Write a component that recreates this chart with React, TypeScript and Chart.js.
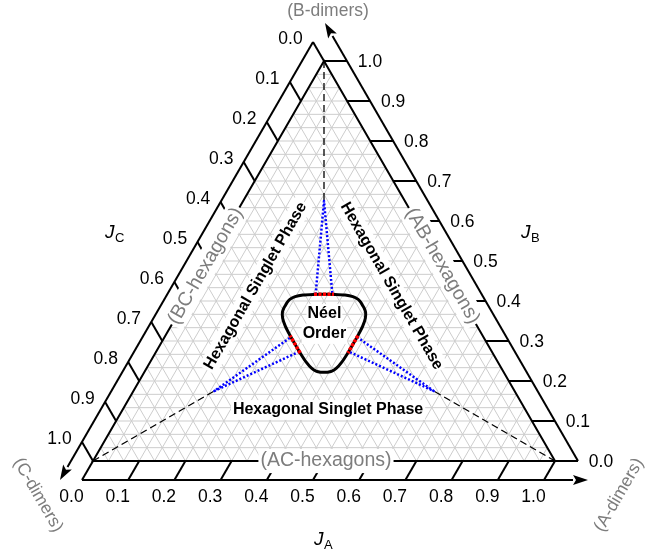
import React, { useEffect, useRef } from "react";
import { Chart, registerables } from "chart.js";

Chart.register(...registerables);

type T3 = [number, number, number]; // (J_A, J_B, J_C), sum = 1

// ---------- data ----------
const tickValues = [0, 0.1, 0.2, 0.3, 0.4, 0.5, 0.6, 0.7, 0.8, 0.9, 1.0];
const tickLabels = ["0.0", "0.1", "0.2", "0.3", "0.4", "0.5", "0.6", "0.7", "0.8", "0.9", "1.0"];
const gridDivisions = 30;

const vertexA: T3 = [1, 0, 0];
const vertexB: T3 = [0, 1, 0];
const vertexC: T3 = [0, 0, 1];

const cuspA: T3 = [0.65, 0.175, 0.175];
const cuspB: T3 = [0.175, 0.65, 0.175];
const cuspC: T3 = [0.175, 0.175, 0.65];

const neelBoundary: T3[] = [
  [0.2917, 0.4167, 0.2916], [0.3150, 0.4165, 0.2685], [0.3380, 0.4150, 0.2470], [0.3570, 0.4110, 0.2320],
  [0.3720, 0.4040, 0.2240], [0.3820, 0.3960, 0.2220], [0.3890, 0.3890, 0.2220], [0.3960, 0.3820, 0.2220],
  [0.4040, 0.3720, 0.2240], [0.4110, 0.3570, 0.2320], [0.4150, 0.3380, 0.2470], [0.4165, 0.3150, 0.2685],
  [0.4167, 0.2916, 0.2917], [0.4165, 0.2685, 0.3150], [0.4150, 0.2470, 0.3380], [0.4110, 0.2320, 0.3570],
  [0.4040, 0.2240, 0.3720], [0.3960, 0.2220, 0.3820], [0.3890, 0.2220, 0.3890], [0.3820, 0.2220, 0.3960],
  [0.3720, 0.2240, 0.4040], [0.3570, 0.2320, 0.4110], [0.3380, 0.2470, 0.4150], [0.3150, 0.2685, 0.4165],
  [0.2917, 0.2916, 0.4167], [0.2685, 0.3150, 0.4165], [0.2470, 0.3380, 0.4150], [0.2320, 0.3570, 0.4110],
  [0.2240, 0.3720, 0.4040], [0.2220, 0.3820, 0.3960], [0.2220, 0.3890, 0.3890], [0.2220, 0.3960, 0.3820],
  [0.2240, 0.4040, 0.3720], [0.2320, 0.4110, 0.3570], [0.2470, 0.4150, 0.3380], [0.2685, 0.4165, 0.3150],
  [0.2917, 0.4167, 0.2916],
];

const redTop: T3[] = [[0.2700, 0.4167, 0.3133], [0.3133, 0.4167, 0.2700]];
const redRight: T3[] = [[0.4167, 0.3133, 0.2700], [0.4167, 0.2700, 0.3133]];
const redLeft: T3[] = [[0.3133, 0.2700, 0.4167], [0.2700, 0.3133, 0.4167]];

const blueTop: T3[] = [[0.2735, 0.4167, 0.3098], cuspB, [0.3098, 0.4167, 0.2735]];
const blueRight: T3[] = [[0.4167, 0.3098, 0.2735], cuspA, [0.4167, 0.2735, 0.3098]];
const blueLeft: T3[] = [[0.3098, 0.2735, 0.4167], cuspC, [0.2735, 0.3098, 0.4167]];

const dashedB: T3[] = [vertexB, cuspB];
const dashedA: T3[] = [vertexA, cuspA];
const dashedC: T3[] = [vertexC, cuspC];

// text anchors (ternary)
const phaseBottomAt: T3 = [0.445, 0.1275, 0.4275];
const phaseLeftAt: T3 = [0.133, 0.4375, 0.4295];
const phaseRightAt: T3 = [0.4274, 0.4375, 0.1351];
const neelLine1At: T3 = [0.3172, 0.3675, 0.3153];
const neelLine2At: T3 = [0.3422, 0.3175, 0.3403];
const hexACAt: T3 = [0.5043, 0, 0.4957];
const hexBCAt: T3 = [0, 0.4875, 0.5125];
const hexABAt: T3 = [0.5125, 0.4875, 0];

// ---------- helpers ----------
const toXY = (t: T3) => ({ x: t[0] + t[1] / 2, y: t[1] });

const FONT = "'Liberation Sans', Arial, Helvetica, sans-serif";
const GRAY = "#7d7d7d";

function lineSet(pts: T3[], color: string, width: number, dash: number[], order: number, tension = 0) {
  return {
    type: "scatter" as const,
    data: pts.map(toXY),
    showLine: true,
    borderColor: color,
    backgroundColor: color,
    borderWidth: width,
    borderDash: dash,
    borderCapStyle: "butt" as const,
    borderJoinStyle: "round" as const,
    pointRadius: 0,
    pointHoverRadius: 0,
    fill: false,
    tension,
    order,
  };
}

function textBox(ctx: CanvasRenderingContext2D, text: string, x: number, y: number, angle: number, font: string, color: string, bg: boolean, pad = 2) {
  ctx.save();
  ctx.translate(x, y);
  ctx.rotate((angle * Math.PI) / 180);
  ctx.font = font;
  ctx.textAlign = "center";
  ctx.textBaseline = "middle";
  const w = ctx.measureText(text).width;
  const m = /(\d+(\.\d+)?)px/.exec(font);
  const fs = m ? parseFloat(m[1]) : 16;
  if (bg) {
    ctx.fillStyle = "#ffffff";
    ctx.fillRect(-w / 2 - pad, -fs * 0.62, w + 2 * pad, fs * 1.24);
  }
  ctx.fillStyle = color;
  ctx.fillText(text, 0, 0);
  ctx.restore();
}

const ternaryPlugin = {
  id: "ternaryFrame",
  beforeDatasetsDraw(chart: any) {
    const ctx: CanvasRenderingContext2D = chart.ctx;
    const xs = chart.scales.x;
    const ys = chart.scales.y;
    const P = (t: T3): [number, number] => [xs.getPixelForValue(t[0] + t[1] / 2), ys.getPixelForValue(t[1])];
    const seg = (p: [number, number], q: [number, number]) => {
      ctx.beginPath();
      ctx.moveTo(p[0], p[1]);
      ctx.lineTo(q[0], q[1]);
      ctx.stroke();
    };
    ctx.save();
    // grid
    ctx.strokeStyle = "#cdcdcd";
    ctx.lineWidth = 1;
    for (let k = 1; k < gridDivisions; k++) {
      const v = k / gridDivisions;
      seg(P([0, v, 1 - v]), P([1 - v, v, 0]));
      seg(P([v, 0, 1 - v]), P([v, 1 - v, 0]));
      seg(P([0, 1 - v, v]), P([1 - v, 0, v]));
    }
    // inner triangle
    ctx.strokeStyle = "#000";
    ctx.lineWidth = 2;
    ctx.lineJoin = "miter";
    const a = P(vertexA), b = P(vertexB), c = P(vertexC);
    ctx.beginPath();
    ctx.moveTo(a[0], a[1]);
    ctx.lineTo(b[0], b[1]);
    ctx.lineTo(c[0], c[1]);
    ctx.closePath();
    ctx.stroke();

    const s3 = Math.sqrt(3) / 2;
    const axes = [
      { inner: (v: number) => P([v, 0, 1 - v]), d: [-0.5, s3], L: 22, lab: [-21.5, 36.5] },
      { inner: (v: number) => P([1 - v, v, 0]), d: [1, 0], L: 23, lab: [46, 1.5] },
      { inner: (v: number) => P([0, 1 - v, v]), d: [-0.5, -s3], L: 22, lab: [-33.5, -21.5] },
    ];
    for (const ax of axes) {
      ctx.strokeStyle = "#000";
      ctx.fillStyle = "#000";
      ctx.lineWidth = 2;
      const p0 = ax.inner(0), p1 = ax.inner(1);
      const e0: [number, number] = [p0[0] + ax.d[0] * ax.L, p0[1] + ax.d[1] * ax.L];
      const e1: [number, number] = [p1[0] + ax.d[0] * ax.L, p1[1] + ax.d[1] * ax.L];
      const len = Math.hypot(e1[0] - e0[0], e1[1] - e0[1]);
      const u = [(e1[0] - e0[0]) / len, (e1[1] - e0[1]) / len];
      const tip: [number, number] = [e1[0] + u[0] * 44, e1[1] + u[1] * 44];
      const base: [number, number] = [tip[0] - u[0] * 15, tip[1] - u[1] * 15];
      seg(e0, base);
      ctx.beginPath();
      ctx.moveTo(tip[0], tip[1]);
      ctx.lineTo(base[0] - u[1] * 5, base[1] + u[0] * 5);
      ctx.lineTo(base[0] + u[0] * 3, base[1] + u[1] * 3);
      ctx.lineTo(base[0] + u[1] * 5, base[1] - u[0] * 5);
      ctx.closePath();
      ctx.fill();
      tickValues.forEach((v, i) => {
        const p = ax.inner(v);
        seg(p, [p[0] + ax.d[0] * ax.L, p[1] + ax.d[1] * ax.L]);
        textBox(ctx, tickLabels[i], p[0] + ax.lab[0], p[1] + ax.lab[1], 0, `17.5px ${FONT}`, "#000", false);
      });
    }
    ctx.restore();
  },
  afterDatasetsDraw(chart: any) {
    const ctx: CanvasRenderingContext2D = chart.ctx;
    const xs = chart.scales.x;
    const ys = chart.scales.y;
    const P = (t: T3): [number, number] => [xs.getPixelForValue(t[0] + t[1] / 2), ys.getPixelForValue(t[1])];
    const bold = `bold 16px ${FONT}`;
    let p = P(phaseBottomAt);
    textBox(ctx, "Hexagonal Singlet Phase", p[0], p[1], 0, bold, "#000", true, 2);
    p = P(phaseLeftAt);
    textBox(ctx, "Hexagonal Singlet Phase", p[0], p[1], -60, bold, "#000", true, 2);
    p = P(phaseRightAt);
    textBox(ctx, "Hexagonal Singlet Phase", p[0], p[1], 60, bold, "#000", true, 2);
    p = P(neelLine1At);
    textBox(ctx, "Néel", p[0], p[1], 0, bold, "#000", true, 1);
    p = P(neelLine2At);
    textBox(ctx, "Order", p[0], p[1], 0, bold, "#000", true, 1);

    const gfont = `19.5px ${FONT}`;
    p = P(hexACAt);
    textBox(ctx, "(AC-hexagons)", p[0], p[1], 0, gfont, GRAY, true, 2);
    p = P(hexBCAt);
    textBox(ctx, "(BC-hexagons)", p[0], p[1], -60, gfont, GRAY, true, 2);
    p = P(hexABAt);
    textBox(ctx, "(AB-hexagons)", p[0], p[1], 60, gfont, GRAY, true, 2);

    const dfont = `17.5px ${FONT}`;
    const vb = P(vertexB), va = P(vertexA), vc = P(vertexC);
    textBox(ctx, "(B-dimers)", vb[0] + 4, vb[1] - 50, 0, dfont, GRAY, false);
    textBox(ctx, "(C-dimers)", vc[0] - 55, vc[1] + 34, 60, dfont, GRAY, false);
    textBox(ctx, "(A-dimers)", va[0] + 64, va[1] + 34, -60, dfont, GRAY, false);

    // axis titles
    const title = (x: number, y: number, sub: string) => {
      ctx.save();
      ctx.fillStyle = "#000";
      ctx.textAlign = "left";
      ctx.textBaseline = "alphabetic";
      ctx.font = `italic 19px ${FONT}`;
      ctx.fillText("J", x, y);
      const w = ctx.measureText("J").width;
      ctx.font = `13px ${FONT}`;
      ctx.fillText(sub, x + w + 0.5, y + 4);
      ctx.restore();
    };
    title(vc[0] + 12, vc[1] - 223, "C");
    title(va[0] - 34, va[1] - 223, "B");
    title(vb[0] - 10, vb[1] + 484, "A");
  },
};

export default function App() {
  const ref = useRef<HTMLCanvasElement>(null);
  useEffect(() => {
    document.body.style.margin = "0";
    const datasets: any[] = [
      lineSet(dashedA, "#000", 1.3, [7, 4], 5),
      lineSet(dashedB, "#000", 1.3, [7, 4], 5),
      lineSet(dashedC, "#000", 1.3, [7, 4], 5),
      lineSet(blueTop, "#0000ff", 2.5, [2, 2], 4),
      lineSet(blueRight, "#0000ff", 2.5, [2, 2], 4),
      lineSet(blueLeft, "#0000ff", 2.5, [2, 2], 4),
      lineSet(neelBoundary, "#000", 3, [], 2, 0.3),
      lineSet(redTop, "#ff0000", 3.5, [3, 1.5], 1),
      lineSet(redRight, "#ff0000", 3.5, [3, 1.5], 1),
      lineSet(redLeft, "#ff0000", 3.5, [3, 1.5], 1),
    ];
    const chart = new Chart(ref.current as HTMLCanvasElement, {
      type: "scatter",
      data: { datasets },
      options: {
        responsive: false,
        maintainAspectRatio: false,
        devicePixelRatio: 1,
        animation: false,
        events: [],
        layout: { padding: 0 },
        plugins: { legend: { display: false }, tooltip: { enabled: false }, title: { display: false } },
        scales: {
          x: { type: "linear", display: false, min: -93 / 462, max: 569 / 462 },
          y: { type: "linear", display: false, min: -96 / 400, max: 461 / 400 },
        },
      },
      plugins: [ternaryPlugin],
    } as any);
    return () => chart.destroy();
  }, []);
  return <canvas ref={ref} width={662} height={557} style={{ display: "block" }} />;
}
